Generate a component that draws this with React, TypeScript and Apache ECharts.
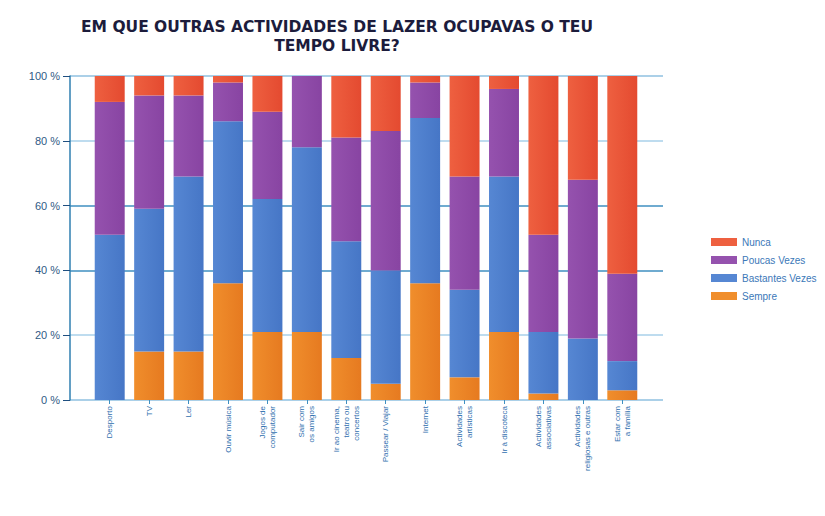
import React, { useEffect, useRef } from "react";
import * as echarts from "echarts";

const categories = [
  "Desporto",
  "TV",
  "Ler",
  "Ouvir música",
  "Jogos de\ncomputador",
  "Sair com\nos amigos",
  "Ir ao cinema,\nteatro ou\nconcertos",
  "Passear / Viajar",
  "Internet",
  "Actividades\nartísticas",
  "Ir à discoteca",
  "Actividades\nassociativas",
  "Actividades\nreligiosas e outras",
  "Estar com\na família",
];

const seriesNames = ["Nunca", "Poucas Vezes", "Bastantes Vezes", "Sempre"];

const sempre = [0, 15, 15, 36, 21, 21, 13, 5, 36, 7, 21, 2, 0, 3];
const bastantes = [51, 44, 54, 50, 41, 57, 36, 35, 51, 27, 48, 19, 19, 9];
const poucas = [41, 35, 25, 12, 27, 22, 32, 43, 11, 35, 27, 30, 49, 27];
const nunca = [8, 6, 6, 2, 11, 0, 19, 17, 2, 31, 4, 49, 32, 61];

const yTicks = [0, 20, 40, 60, 80, 100];

const colors: Record<string, [string, string]> = {
  Nunca: ["#EE6040", "#E44A30"],
  "Poucas Vezes": ["#9552AE", "#8844A2"],
  "Bastantes Vezes": ["#5687D3", "#4676C6"],
  Sempre: ["#F08E2C", "#E67A20"],
};

export default function App() {
  const ref = useRef<HTMLDivElement>(null);
  useEffect(() => {
    if (!ref.current) return;
    const chart = echarts.init(ref.current, null, { renderer: "svg" });
    const font = "Liberation Sans, Arial, sans-serif";
    const mk = (name: string, data: number[]) => ({
      name,
      type: "bar",
      stack: "total",
      data,
      xAxisIndex: 0,
      yAxisIndex: 0,
      barCategoryGap: "24%",
      itemStyle: {
        color: new echarts.graphic.LinearGradient(0, 0, 1, 0, [
          { offset: 0, color: colors[name][0] },
          { offset: 1, color: colors[name][1] },
        ]),
      },
    });
    chart.setOption({
      animation: false,
      backgroundColor: "#ffffff",
      textStyle: { fontFamily: font },
      title: {
        text: "EM QUE OUTRAS ACTIVIDADES DE LAZER OCUPAVAS O TEU\nTEMPO LIVRE?",
        left: 332,
        top: 12,
        textAlign: "center",
        textStyle: {
          fontSize: 15.5,
          fontWeight: "bold",
          color: "#1c1c3c",
          lineHeight: 19,
          fontFamily: "DejaVu Sans, sans-serif",
        },
      },
      legend: {
        orient: "vertical",
        left: 706,
        top: 232,
        itemWidth: 26,
        itemHeight: 8,
        itemGap: 8,
        icon: "rect",
        data: seriesNames.map((n) => ({
          name: n,
          itemStyle: { color: colors[n][0] },
        })),
        textStyle: { fontSize: 10, color: "#3b78b8", fontFamily: font },
      },
      grid: [
        { left: 90, right: 183, top: 76, bottom: 116 },
        { left: 70, right: 162, top: 76, bottom: 116 },
      ],
      xAxis: [
        {
          type: "category",
          gridIndex: 0,
          data: categories,
          axisLine: { show: false },
          axisTick: {
            show: true,
            alignWithLabel: true,
            length: 4,
            lineStyle: { color: "#3f8fc0" },
          },
          axisLabel: {
            rotate: 90,
            fontSize: 8,
            color: "#2f6fae",
            margin: 6,
            interval: 0,
            lineHeight: 10,
          },
        },
        { type: "value", gridIndex: 1, min: 0, max: 1, show: false },
      ],
      yAxis: [
        {
          type: "value",
          gridIndex: 0,
          min: 0,
          max: 100,
          interval: 20,
          offset: 20,
          axisLine: { show: true, lineStyle: { color: "#2f7fb0", width: 1.5 } },
          axisTick: { show: true, length: 7, lineStyle: { color: "#1f4f80" } },
          axisLabel: {
            formatter: (v: number) => (yTicks.includes(v) ? v + " %" : ""),
            fontSize: 11,
            color: "#2f5a85",
            margin: 10,
          },
          splitLine: { show: false },
        },
        {
          type: "value",
          gridIndex: 1,
          min: 0,
          max: 100,
          interval: 20,
          axisLine: { show: false },
          axisTick: { show: false },
          axisLabel: { show: false },
          splitLine: {
            show: true,
            lineStyle: {
              color: ["#8fc0e0", "#a8d0ea", "#3f8fc0", "#3f8fc0", "#a8d0ea", "#8fc0e0"],
              width: 1.5,
            },
          },
        },
      ],
      series: [
        mk("Sempre", sempre),
        mk("Bastantes Vezes", bastantes),
        mk("Poucas Vezes", poucas),
        mk("Nunca", nunca),
      ],
    });
    return () => chart.dispose();
  }, []);
  return <div ref={ref} style={{ width: 825, height: 516, margin: -8 }} />;
}
